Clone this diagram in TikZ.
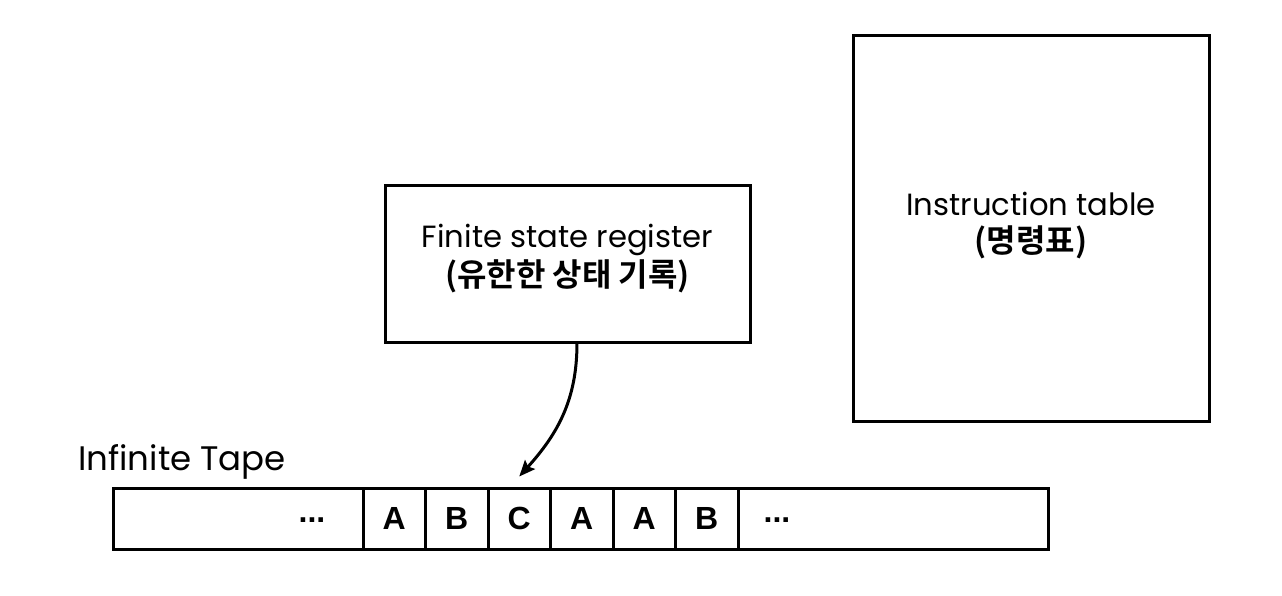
\documentclass[tikz,border=0pt]{standalone}
\usepackage{fontspec}
\setmainfont{Poppins}
\newfontfamily\korfont{Noto Sans CJK KR Bold}
\newfontfamily\tapefont{Liberation Sans}
\usetikzlibrary{arrows.meta}
\def\LineW{2.25pt}
\def\CellW{46.875pt}
\def\CellH{45.75pt}
\def\TapeY{518.5}
\def\Kor{\korfont\fontsize{24}{26}\selectfont}

\tikzset{
  box/.style={draw, line width=\LineW, align=center, inner sep=0pt},
  cell/.style={draw, line width=\LineW, minimum height=\CellH, inner sep=0pt,
    font=\tapefont\bfseries\fontsize{24}{24}\selectfont},
  dots/.style={inner sep=0pt, font=\tapefont\bfseries\fontsize{24}{24}\selectfont},
  caption/.style={font=\fontsize{23}{26}\selectfont},
}

\begin{document}
\begin{tikzpicture}[x=0.75pt, y=-0.75pt]
\useasboundingbox (0,0) rectangle (1282,596);

\node[box, minimum width=273.75pt, minimum height=117.75pt, caption] (fsr) at (567.5, 263.5)
  {Finite state register\\[1.5pt]{\Kor (유한한 상태 기록)\rule[-12pt]{0pt}{0pt}}};
\node[box, minimum width=267pt, minimum height=289.5pt, caption] (itab) at (1031, 228)
  {Instruction table\\[1.5pt]{\Kor (명령표)\rule[-9pt]{0pt}{0pt}}};

\node[inner sep=0pt, anchor=base west, font=\fontsize{25.5}{28}\selectfont] (tape) at (78, 470) {Infinite Tape};

% tape cells
\node[cell, minimum width=187.5pt] (tl) at (238, \TapeY) {};
\node[cell, minimum width=232.5pt] (tr) at (893, \TapeY) {};
\foreach \sym [count=\i] in {A,B,C,A,A,B}
  \node[cell, minimum width=\CellW] (c\i) at (363 + 62.5 * \i - 31.25, \TapeY) {\sym};
\node[dots] (dl) at (312, 520.5) {...};
\node[dots] (dr) at (777, 520.5) {...};

\draw[line width=\LineW, -{Stealth[length=12pt, width=10pt, inset=2pt]}]
  ([xshift=7.1pt]fsr.south) to[out=-90, in=48] ([yshift=7.5pt]c3.north);
\end{tikzpicture}
\end{document}
